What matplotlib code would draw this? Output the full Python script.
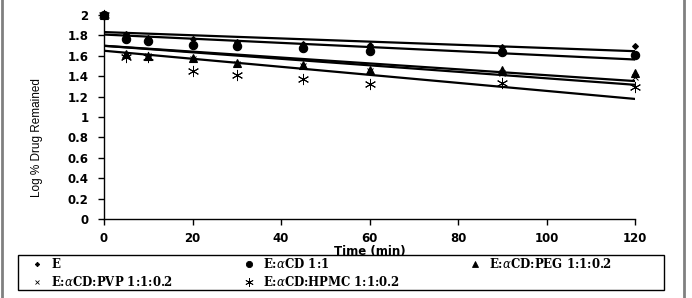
import numpy as np
import matplotlib
matplotlib.use("Agg")
import matplotlib.pyplot as plt
from matplotlib.lines import Line2D
from matplotlib.patches import Rectangle

# sampling times (min)
time_min = [0, 5, 10, 20, 30, 45, 60, 90, 120]

# log % drug remained
log_e = [2.00, 1.81, 1.77, 1.76, 1.74, 1.72, 1.71, 1.69, 1.70]
log_acd = [2.00, 1.76, 1.75, 1.71, 1.70, 1.68, 1.65, 1.64, 1.61]
log_peg = [2.00, 1.62, 1.60, 1.58, 1.53, 1.51, 1.46, 1.46, 1.43]
log_pvp = [2.00, 1.61, 1.60, 1.57, 1.52, 1.50, 1.45, 1.43, 1.39]
log_hpmc = [2.00, 1.59, 1.59, 1.45, 1.41, 1.37, 1.32, 1.33, 1.29]

labels = ["E", r"E:$\alpha$CD 1:1", r"E:$\alpha$CD:PEG 1:1:0.2",
          r"E:$\alpha$CD:PVP 1:1:0.2", r"E:$\alpha$CD:HPMC 1:1:0.2"]

x_ticks = [0, 20, 40, 60, 80, 100, 120]
y_ticks = [0, 0.2, 0.4, 0.6, 0.8, 1, 1.2, 1.4, 1.6, 1.8, 2]

plt.rcParams['font.family'] = ['DejaVu Sans']
plt.rcParams['mathtext.fontset'] = 'dejavuserif'

W, H = 692, 298
fig = plt.figure(figsize=(W / 100, H / 100), dpi=100)
ax = fig.add_axes([104 / W, 1 - 219 / H, 531 / W, 204 / H])

series = [log_e, log_acd, log_peg, log_pvp, log_hpmc]
markers = ["D", "o", "^", "x", (6, 2, 0)]
msizes = [3, 6, 5.5, 4, 8]
mews = [0.8, 0.8, 0.8, 0.7, 0.7]
handles = []
t = np.array(time_min, dtype=float)
for vals, mk, ms, mw, lab in zip(series, markers, msizes, mews, labels):
    ax.plot(time_min, vals, linestyle="none", marker=mk, markersize=ms,
            color="black", markeredgewidth=mw, clip_on=False)
    # linear trendline like the original spreadsheet
    slope, icpt = np.polyfit(t, np.array(vals), 1)
    tt = np.array([0, 120])
    ax.plot(tt, icpt + slope * tt, color="black", linewidth=1.6)
    handles.append(Line2D([], [], linestyle="none", marker=mk, markersize=ms * 0.75,
                          color="black", markeredgewidth=0.6, label=lab))

ax.set_xlim(0, 120)
ax.set_ylim(0, 2)
ax.set_xticks(x_ticks)
ax.set_yticks(y_ticks)
ax.set_yticklabels(["%g" % v for v in y_ticks])
for s in ["top", "right"]:
    ax.spines[s].set_visible(False)
for s in ["left", "bottom"]:
    ax.spines[s].set_linewidth(1.0)
ax.tick_params(direction="out", length=4, width=1, labelsize=8.5, pad=7)
ax.tick_params(axis="x", pad=5)
for lbl in ax.get_xticklabels() + ax.get_yticklabels():
    lbl.set_fontweight("bold")

ax.set_xlabel("Time (min)", fontsize=8.5, fontweight="bold", labelpad=0)
ax.set_ylabel("Log % Drug Remained", fontsize=8.5,
              family=['Liberation Sans Narrow', 'Liberation Sans'])
ax.yaxis.set_label_coords((43 - 104) / 531, (219 - 138) / 204)

# legend box drawn separately, entries filled row by row
fig.add_artist(Rectangle((18 / W, 1 - 290 / H), 646 / W, 35 / H, transform=fig.transFigure,
                         facecolor="none", edgecolor="black", linewidth=1.0))
order = [0, 3, 1, 4, 2]
leg = fig.legend([handles[i] for i in order], [labels[i] for i in order],
                 loc="center left", bbox_to_anchor=(30 / W, 1 - 273 / H),
                 ncol=3, frameon=False, borderaxespad=0, borderpad=0,
                 handlelength=1.2, handletextpad=0.6,
                 columnspacing=5.8, labelspacing=0.3,
                 prop={'family': 'DejaVu Serif', 'weight': 'bold', 'size': 8.5})

# grey outer frame
fig.add_artist(Line2D([2 / W, 2 / W], [0, 1], color="#808080", linewidth=2))
fig.add_artist(Line2D([684 / W, 684 / W], [0, 1], color="#808080", linewidth=2))

fig.savefig("out.png", dpi=100)
